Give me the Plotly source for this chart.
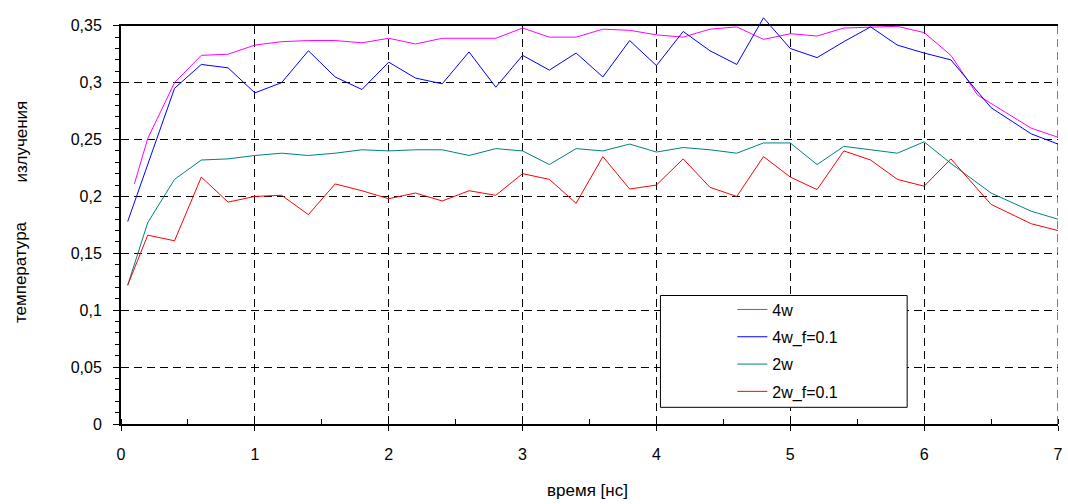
import plotly.graph_objects as go

# ---------------- data ----------------
x_4w = [0.1, 0.2, 0.4, 0.6, 0.8, 1.0, 1.2, 1.4, 1.6, 1.8, 2.0, 2.2, 2.4, 2.6, 2.8, 3.0,
        3.2, 3.4, 3.6, 3.8, 4.0, 4.2, 4.4, 4.6, 4.8, 5.0, 5.2, 5.4, 5.6, 5.8, 6.0, 6.2,
        6.4, 6.8, 7.0]
y_4w = [0.211, 0.251, 0.300, 0.324, 0.325, 0.333, 0.336, 0.337, 0.337, 0.335, 0.339,
        0.334, 0.339, 0.339, 0.339, 0.348, 0.340, 0.340, 0.347, 0.346, 0.342, 0.340,
        0.347, 0.349, 0.338, 0.343, 0.341, 0.348, 0.349, 0.3495, 0.344, 0.324,
        0.289, 0.260, 0.252]

x_other = [0.05, 0.2, 0.4, 0.6, 0.8, 1.0, 1.2, 1.4, 1.6, 1.8, 2.0, 2.2, 2.4, 2.6, 2.8, 3.0,
           3.2, 3.4, 3.6, 3.8, 4.0, 4.2, 4.4, 4.6, 4.8, 5.0, 5.2, 5.4, 5.6, 5.8, 6.0, 6.2,
           6.5, 6.8, 7.0]
y_4w_f = [0.178, 0.229, 0.295, 0.316, 0.313, 0.291, 0.300, 0.328, 0.305, 0.294, 0.318,
          0.304, 0.299, 0.327, 0.296, 0.324, 0.311, 0.326, 0.305, 0.337, 0.315, 0.345,
          0.328, 0.316, 0.357, 0.330, 0.322, 0.336, 0.349, 0.333, 0.326, 0.320,
          0.278, 0.255, 0.246]
y_2w = [0.122, 0.177, 0.215, 0.232, 0.233, 0.236, 0.238, 0.236, 0.238, 0.241, 0.240,
        0.241, 0.241, 0.236, 0.242, 0.240, 0.228, 0.242, 0.240, 0.246, 0.239, 0.243,
        0.241, 0.238, 0.247, 0.247, 0.228, 0.244, 0.241, 0.238, 0.248, 0.229,
        0.203, 0.187, 0.180]
y_2w_f = [0.122, 0.166, 0.161, 0.217, 0.195, 0.200, 0.201, 0.184, 0.211, 0.205, 0.198,
          0.203, 0.196, 0.205, 0.201, 0.220, 0.215, 0.194, 0.235, 0.2065, 0.210, 0.233,
          0.208, 0.200, 0.235, 0.217, 0.206, 0.240, 0.232, 0.215, 0.209, 0.233,
          0.193, 0.176, 0.170]

x_ticks = [0, 1, 2, 3, 4, 5, 6, 7]
y_ticks = [0, 0.05, 0.1, 0.15, 0.2, 0.25, 0.3, 0.35]
y_tick_text = ["0", "0,05", "0,1", "0,15", "0,2", "0,25", "0,3", "0,35"]

names = ["4w", "4w_f=0.1", "2w", "2w_f=0.1"]
colors = ["#FF00FF", "#0000FF", "#008080", "#FF0000"]

# ---------------- layout geometry ----------------
W, H = 1068, 504
ML, MR, MT, MB = 121, 9, 5, 80
PW, PH = W - ML - MR, H - MT - MB
y_top_px = 18
dom_top = (H - MB - y_top_px) / PH
y2_max = 0.35 / dom_top


def px_x(px):
    return (px - ML) / PW


def px_y(py):
    return (H - MB - py) / PH


FONT = "Liberation Sans, Arial, sans-serif"
GRID_DASH = "8px,5px"

fig = go.Figure()
# invisible anchor trace so the main (gridded) axes are drawn
fig.add_trace(go.Scatter(x=[None], y=[None], mode="lines", showlegend=False,
                         hoverinfo="skip", xaxis="x", yaxis="y"))
series = [(x_4w, y_4w), (x_other, y_4w_f), (x_other, y_2w), (x_other, y_2w_f)]
for (xs, ys), nm, c in zip(series, names, colors):
    fig.add_trace(go.Scatter(x=xs, y=ys, name=nm, mode="lines",
                             line=dict(color=c, width=1),
                             xaxis="x2", yaxis="y2", legendgroup=nm))

fig.update_layout(
    width=W, height=H,
    margin=dict(l=ML, r=MR, t=MT, b=MB),
    paper_bgcolor="white", plot_bgcolor="rgba(0,0,0,0)",
    font=dict(family=FONT, size=16, color="black"),
    showlegend=True,
    xaxis=dict(range=[0, 7], domain=[0, 1], tickvals=x_ticks,
               showgrid=True, gridcolor="black", gridwidth=1, griddash=GRID_DASH,
               showline=True, linecolor="black", linewidth=2, mirror=True,
               ticks="outside", ticklen=5, tickcolor="black", tickwidth=1,
               ticklabelstandoff=10,
               minor=dict(dtick=0.5, ticks="inside", ticklen=5, tickcolor="black",
                          showgrid=False),
               zeroline=False, fixedrange=True),
    yaxis=dict(range=[0, 0.35], domain=[0, dom_top], tickvals=y_ticks,
               ticktext=y_tick_text,
               showgrid=True, gridcolor="black", gridwidth=1, griddash=GRID_DASH,
               showline=True, linecolor="black", linewidth=2,
               ticks="outside", ticklen=6, tickcolor="black", tickwidth=1,
               ticklabelstandoff=8,
               minor=dict(dtick=0.01, ticks="outside", ticklen=4, tickcolor="black",
                          showgrid=False),
               zeroline=False, fixedrange=True),
    xaxis2=dict(range=[0, 7], domain=[0, 1], anchor="y2", visible=False,
                showgrid=False, zeroline=False, fixedrange=True),
    yaxis2=dict(range=[0, y2_max], domain=[0, 1], anchor="x2", visible=False,
                showgrid=False, zeroline=False, fixedrange=True),
    legend=dict(x=px_x(733), y=px_y(290), xanchor="left", yanchor="top",
                bgcolor="rgba(0,0,0,0)", borderwidth=0,
                font=dict(family=FONT, size=16, color="black"),
                traceorder="grouped", tracegroupgap=3.5),
    shapes=[
        dict(type="line", xref="x", yref="y", x0=7, x1=7, y0=0, y1=0.35,
             line=dict(color="black", width=1, dash=GRID_DASH), layer="below"),
        dict(type="rect", xref="paper", yref="paper",
             x0=px_x(661), x1=px_x(908), y0=px_y(293), y1=px_y(407),
             fillcolor="white", line=dict(color="black", width=1), layer="above"),
    ],
    annotations=[
        dict(text="время [нс]", xref="paper", yref="paper",
             x=px_x(588), y=px_y(492), xanchor="center", yanchor="middle",
             showarrow=False, font=dict(family=FONT, size=17, color="black")),
        dict(text="температура", xref="paper", yref="paper", textangle=-90,
             x=px_x(21), y=px_y(269), xanchor="center", yanchor="middle",
             showarrow=False, font=dict(family=FONT, size=17, color="black")),
        dict(text="излучения", xref="paper", yref="paper", textangle=-90,
             x=px_x(21), y=px_y(136), xanchor="center", yanchor="middle",
             showarrow=False, font=dict(family=FONT, size=17, color="black")),
    ],
)

fig.write_html("out.html", config={"displayModeBar": False},
               post_script="document.body.style.margin='0px';")
